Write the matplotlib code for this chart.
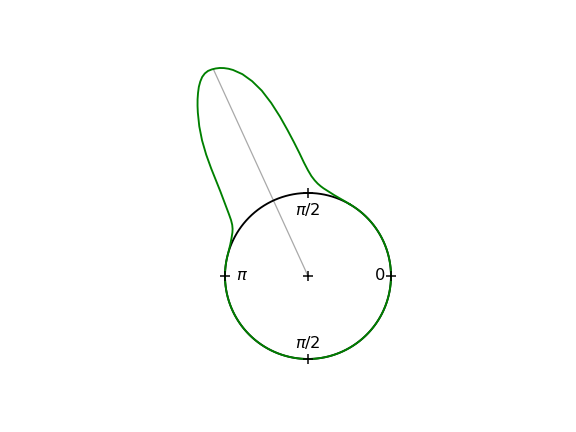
import numpy as np
import matplotlib.pyplot as plt

# bump of the green curve (angle in degrees, radius)
bump_deg = [60, 62, 64, 66, 68, 70, 72, 74, 76, 78, 80, 82, 84, 86, 88, 90,
            92, 94, 96, 98, 100, 102, 104, 106, 108, 110, 111, 112, 113, 114,
            115, 116, 117, 118, 119, 120, 121, 122, 123, 124, 126, 128, 130,
            132, 134, 136, 138, 140, 142, 144, 146, 148, 150, 152, 154, 156,
            158, 160, 162, 164]
bump_r = [1.000, 1.002, 1.004, 1.007, 1.011, 1.016, 1.024, 1.034, 1.045,
          1.058, 1.073, 1.093, 1.119, 1.155, 1.203, 1.273, 1.365, 1.485,
          1.621, 1.776, 1.951, 2.131, 2.301, 2.441, 2.556, 2.641, 2.674,
          2.701, 2.722, 2.736, 2.745, 2.748, 2.738, 2.715, 2.677, 2.630,
          2.572, 2.510, 2.443, 2.373, 2.228, 2.073, 1.908, 1.743, 1.593,
          1.468, 1.368, 1.283, 1.208, 1.146, 1.101, 1.071, 1.051, 1.037,
          1.026, 1.017, 1.010, 1.005, 1.002, 1.000]

mean_angle = 2.0      # rad, grey line
mean_r = 2.742

tick_angles = [0, np.pi / 2, np.pi, -np.pi / 2]
tick_labels = ['0', r'$\pi/2$', r'$\pi$', r'$\pi/2$']
label_x = [0.87, 0.0, -0.80, 0.0]
label_y = [0.0, 0.80, 0.0, -0.80]

fig = plt.figure(figsize=(6.4, 4.8), dpi=90)
ax = fig.add_subplot(111)

t = np.linspace(0, 2 * np.pi, 400)
ax.plot(np.cos(t), np.sin(t), color='black', lw=1.5)

# green curve = unit circle with the bump
th_b = np.deg2rad(bump_deg)
t_rest = np.linspace(th_b[-1], th_b[0] + 2 * np.pi, 300)
th = np.concatenate([th_b, t_rest[1:]])
r = np.concatenate([bump_r, np.ones(len(t_rest) - 1)])
ax.plot(r * np.cos(th), r * np.sin(th), color='green', lw=1.5)

ax.plot([0, mean_r * np.cos(mean_angle)], [0, mean_r * np.sin(mean_angle)],
        color='darkgray', lw=1, zorder=1)

ax.plot([0], [0], '+', color='black', ms=8, mew=1.2)
for a, lab, lx, ly in zip(tick_angles, tick_labels, label_x, label_y):
    ax.plot(np.cos(a), np.sin(a), '+', color='black', ms=8, mew=1.2)
    ax.text(lx, ly, lab, ha='center', va='center', fontsize=13)

ax.set_xlim(-2.843, 2.535)
ax.set_ylim(-1.307, 2.70)
ax.axis('off')

plt.savefig('out.png', dpi=90)
